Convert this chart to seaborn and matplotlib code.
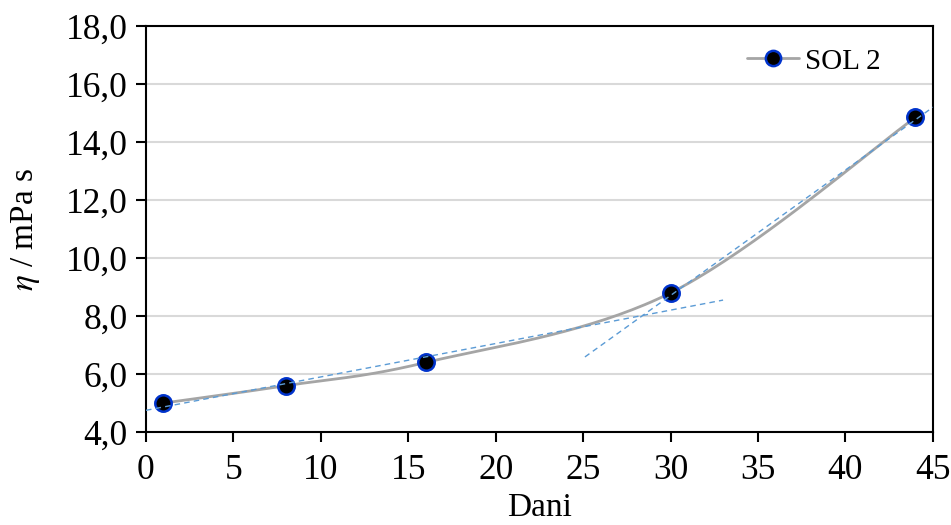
import numpy as np
import pandas as pd
import matplotlib
matplotlib.use("Agg")
import matplotlib.pyplot as plt
import seaborn as sns
from matplotlib.lines import Line2D

# Data
dani = [1, 8, 16, 30, 44]
eta = [5.0, 5.6, 6.4, 8.8, 14.85]

# Trend lines (start / end)
trend1_x = [0, 33]
trend1_y = [4.75, 8.55]
trend2_x = [25.1, 45]
trend2_y = [6.59, 15.2]

y_ticks = [4, 6, 8, 10, 12, 14, 16, 18]
x_ticks = [0, 5, 10, 15, 20, 25, 30, 35, 40, 45]


# Excel-like smoothed line (Catmull-Rom as cubic Bezier)
def smooth(xs, ys, n=40):
    p = np.column_stack([xs, ys]).astype(float)
    p = np.vstack([p[0], p, p[-1]])
    out = []
    t = np.linspace(0, 1, n)[:, None]
    for i in range(1, len(p) - 2):
        p0, p1, p2, p3 = p[i - 1], p[i], p[i + 1], p[i + 2]
        c1 = p1 + (p2 - p0) / 6
        c2 = p2 - (p3 - p1) / 6
        seg = ((1 - t) ** 3) * p1 + 3 * ((1 - t) ** 2) * t * c1 + 3 * (1 - t) * t ** 2 * c2 + t ** 3 * p2
        out.append(seg if i == 1 else seg[1:])
    return np.vstack(out)


curve = smooth(dani, eta)
df_curve = pd.DataFrame({"x": curve[:, 0], "y": curve[:, 1]})
df = pd.DataFrame({"Dani": dani, "eta": eta})

sns.set_style("white")
plt.rcParams["font.family"] = ["Liberation Serif", "DejaVu Serif"]
plt.rcParams["mathtext.fontset"] = "stix"
plt.rcParams["text.color"] = "black"
plt.rcParams["axes.labelcolor"] = "black"
plt.rcParams["xtick.color"] = "black"
plt.rcParams["ytick.color"] = "black"

fig, ax = plt.subplots(figsize=(9.51, 5.25), dpi=100)
fig.subplots_adjust(left=0.1535, right=0.981, top=0.9505, bottom=0.177)

for yv in y_ticks:
    ax.axhline(yv, color="#d9d9d9", lw=1.5, zorder=0)

sns.lineplot(data=df_curve, x="x", y="y", ax=ax, color="#a5a5a5", lw=2.0,
             sort=False, estimator=None, zorder=2)
sns.scatterplot(data=df, x="Dani", y="eta", ax=ax, s=140, color="black",
                edgecolor="#0033cc", linewidth=1.8, zorder=4)
sns.lineplot(x=trend1_x, y=trend1_y, ax=ax, color="#5b9bd5", lw=1.0,
             linestyle=(0, (4, 3)), zorder=5)
sns.lineplot(x=trend2_x, y=trend2_y, ax=ax, color="#5b9bd5", lw=1.0,
             linestyle=(0, (4, 3)), zorder=5)

ax.set_xlim(0, 45)
ax.set_ylim(4, 18)
ax.set_xticks(x_ticks)
ax.set_yticks(y_ticks)
ax.set_yticklabels([f"{v:.1f}".replace(".", ",") for v in y_ticks])
ax.tick_params(axis="both", which="major", labelsize=25.5, direction="out",
               length=7, width=1.5, color="black", labelcolor="black",
               left=True, bottom=True)
ax.tick_params(axis="x", pad=9)
ax.tick_params(axis="y", pad=6)
ax.set_xlabel("Dani", fontsize=24, labelpad=4)
ax.set_ylabel(r"$\mathit{\eta}$ / mPa s", fontsize=24, labelpad=17)

for side in ["left", "right", "top", "bottom"]:
    ax.spines[side].set_visible(True)
    ax.spines[side].set_color("black")
    ax.spines[side].set_linewidth(1.5)

handle = Line2D([0], [0], color="#a5a5a5", lw=2.0, marker="o", markersize=11,
                markerfacecolor="black", markeredgecolor="#0033cc", markeredgewidth=1.8)
ax.legend([handle], ["SOL 2"], loc="upper right", frameon=False, fontsize=21,
          handlelength=1.8, handletextpad=0.2, bbox_to_anchor=(0.967, 1.01))

fig.savefig("out.png", dpi=100)
